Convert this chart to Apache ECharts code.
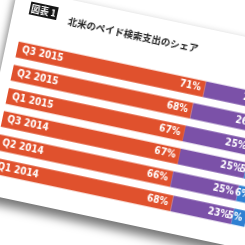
<!DOCTYPE html>
<html>
<head>
<meta charset="utf-8">
<script src="https://cdn.jsdelivr.net/npm/echarts@6/dist/echarts.min.js"></script>
<style>
  html, body { margin: 0; padding: 0; width: 245px; height: 245px; overflow: hidden; background: #ffffff; }
  #tilt { position: absolute; left: 0; top: 0; width: 0; height: 0; transform: rotate(12deg); transform-origin: 0 0; }
  #main { position: absolute; left: 15px; top: -15px; width: 400px; height: 208px; background: #fff;
          box-shadow: 0 8px 10px rgba(0,0,0,0.5), -2px 0 6px rgba(0,0,0,0.12); }
</style>
</head>
<body>
<div id="tilt"><div id="main"></div></div>
<script>
// 北米のペイド検索支出のシェア
var categories = ['Q3 2015', 'Q2 2015', 'Q1 2015', 'Q3 2014', 'Q2 2014', 'Q1 2014'];
var orangeShare = [71, 68, 67, 67, 66, 68];
var purpleShare = [24, 26, 25, 25, 25, 23];
var blueShare = [4, 5, 5, 5, 6, 5];

var labelFont = '"Liberation Sans Narrow", "DejaVu Sans Condensed", sans-serif';

var myChart = echarts.init(document.getElementById('main'));

function seg(name, data, color) {
    return {
        name: name,
        type: 'bar',
        stack: 'share',
        barWidth: 16,
        data: data,
        itemStyle: { color: color },
        label: {
            show: true,
            position: 'insideRight',
            distance: 4,
            formatter: '{c}%',
            color: '#fff',
            fontFamily: labelFont,
            fontWeight: 'bold',
            fontSize: 10
        }
    };
}

var option = {
    animation: false,
    title: {
        text: '北米のペイド検索支出のシェア',
        left: 51,
        top: 12,
        textStyle: { fontFamily: '"Noto Sans CJK JP", sans-serif', fontSize: 9.5, fontWeight: 'bold', color: '#222' }
    },
    graphic: [
        {
            type: 'group',
            left: 16,
            top: 10,
            children: [
                { type: 'rect', shape: { x: 0, y: 0, width: 28, height: 13 }, style: { fill: '#151515' } },
                { type: 'text', x: 14, y: 6.5, style: { text: '図表 1', fill: '#fff', font: 'bold 9px "Noto Sans CJK JP", sans-serif', align: 'center', verticalAlign: 'middle' } }
            ]
        }
    ],
    grid: { left: 12, top: 48, width: 270, height: 142 },
    xAxis: { type: 'value', min: 0, max: 100, show: false },
    yAxis: {
        type: 'category',
        inverse: true,
        data: categories,
        z: 10,
        axisLine: { show: false },
        axisTick: { show: false },
        axisLabel: { inside: true, margin: 5, color: '#fff', fontFamily: labelFont, fontWeight: 'bold', fontSize: 10 }
    },
    series: [
        seg('Google', orangeShare, '#e0512d'),
        seg('Bing', purpleShare, '#7b51a8'),
        seg('Other', blueShare, '#2f80d2')
    ]
};

myChart.setOption(option);
</script>
</body>
</html>
